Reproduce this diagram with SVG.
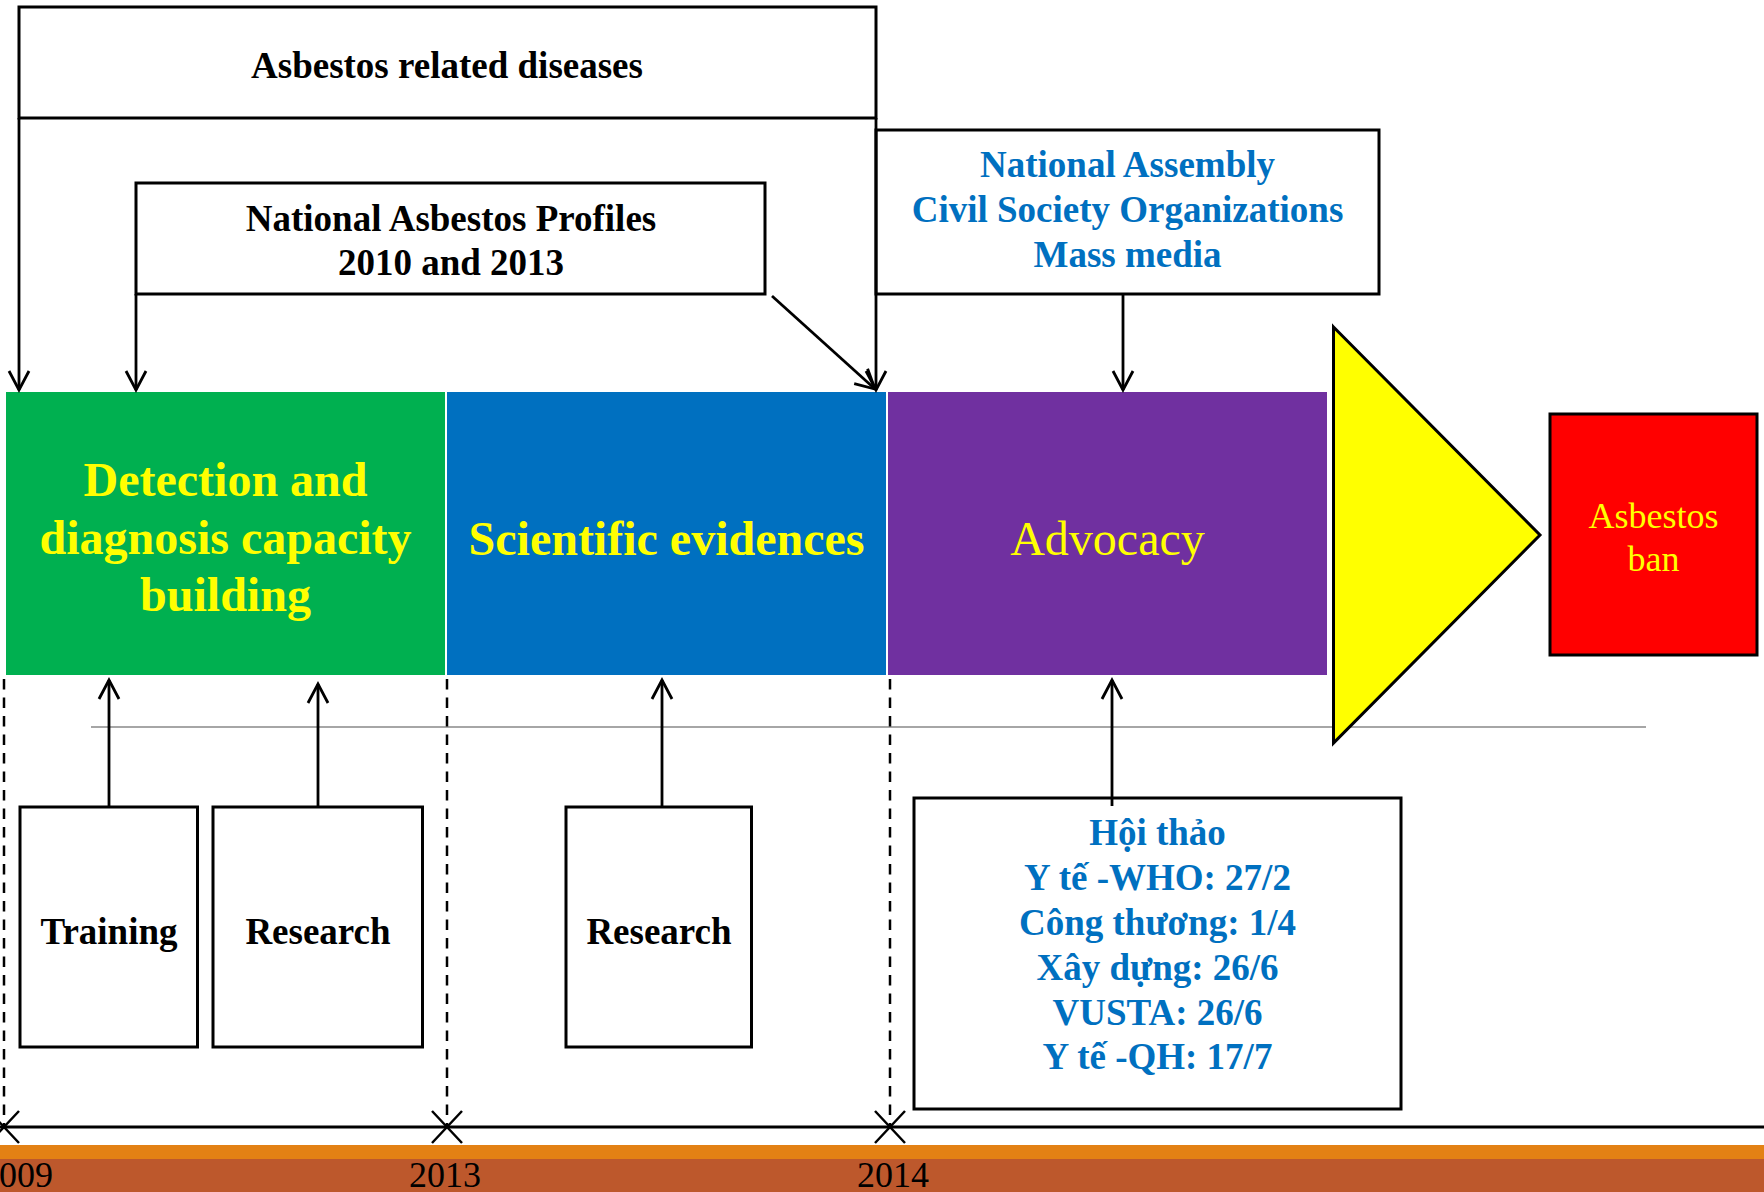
<svg xmlns="http://www.w3.org/2000/svg" width="1764" height="1192" viewBox="0 0 1764 1192">
  <defs>
    <style>
      .box { fill: #FFFFFF; stroke: #000000; stroke-width: 3; }
      .conn { fill: none; stroke: #000000; stroke-width: 2.8; }
      .dash { fill: none; stroke: #000000; stroke-width: 2.5; stroke-dasharray: 10.5 8; }
      .xmark { fill: none; stroke: #000000; stroke-width: 2.5; }
      .t { font-family: "Liberation Serif", "Times New Roman", serif; text-anchor: middle; }
      .b37 { font-weight: bold; font-size: 37px; }
      .blk { fill: #000000; }
      .blu { fill: #0070C0; }
      .yel { fill: #FFFF00; }
      .big { font-size: 48px; }
      .year { font-family: "Liberation Serif", "Times New Roman", serif; font-size: 36px; fill: #000000; }
    </style>
    <marker id="arr" viewBox="0 0 24 24" refX="21" refY="12" markerWidth="24" markerHeight="24" markerUnits="userSpaceOnUse" orient="auto">
      <path d="M2,2 L21,12 L2,22" fill="none" stroke="#000000" stroke-width="2.8"/>
    </marker>
  </defs>

  <rect x="0" y="0" width="1764" height="1192" fill="#FFFFFF"/>

  <g id="timeline">
    <line x1="91" y1="727" x2="1646" y2="727" stroke="#A6A6A6" stroke-width="2"/>
    <rect x="0" y="1145" width="1764" height="14" fill="#E38114"/>
    <rect x="0" y="1159" width="1764" height="33" fill="#BD582C"/>
    <line x1="0" y1="1127" x2="1764" y2="1127" stroke="#000000" stroke-width="3"/>
    <line class="dash" x1="4" y1="679" x2="4" y2="1127"/>
    <line class="dash" x1="447" y1="679" x2="447" y2="1127"/>
    <line class="dash" x1="890" y1="679" x2="890" y2="1127"/>
    <path class="xmark" d="M-11,1111 L19,1143 M-11,1143 L19,1111"/>
    <path class="xmark" d="M432,1111 L462,1143 M432,1143 L462,1111"/>
    <path class="xmark" d="M875,1111 L905,1143 M875,1143 L905,1111"/>
    <text class="year" x="-19" y="1187">2009</text>
    <text class="year" x="409" y="1187">2013</text>
    <text class="year" x="857" y="1187">2014</text>
  </g>

  <g id="node-asbestos-diseases">
    <rect class="box" x="19" y="7" width="857" height="111"/>
    <text class="t b37 blk" x="447" y="77.5">Asbestos related diseases</text>
  </g>

  <g id="node-profiles">
    <rect class="box" x="136" y="183" width="629" height="111"/>
    <text class="t b37 blk" x="451" y="230.5">National Asbestos Profiles</text>
    <text class="t b37 blk" x="451" y="274.5">2010 and 2013</text>
  </g>

  <g id="node-stakeholders">
    <rect class="box" x="876" y="130" width="503" height="164"/>
    <text class="t b37 blu" x="1127.5" y="176.5">National Assembly</text>
    <text class="t b37 blu" x="1127.5" y="221.5">Civil Society Organizations</text>
    <text class="t b37 blu" x="1127.5" y="266.5">Mass media</text>
  </g>

  <g id="node-detection">
    <rect x="6" y="392" width="439" height="283" fill="#00B050"/>
    <text class="t big yel" font-weight="bold" x="225.5" y="495.5">Detection and</text>
    <text class="t big yel" font-weight="bold" x="225.5" y="553.5">diagnosis capacity</text>
    <text class="t big yel" font-weight="bold" x="225.5" y="610.5">building</text>
  </g>

  <g id="node-scientific">
    <rect x="447" y="392" width="439" height="283" fill="#0070C0"/>
    <text class="t big yel" font-weight="bold" x="666.5" y="554.5">Scientific evidences</text>
  </g>

  <g id="node-advocacy">
    <rect x="888" y="392" width="439" height="283" fill="#7030A0"/>
    <text class="t big yel" x="1107.5" y="554.5">Advocacy</text>
  </g>

  <g id="node-triangle">
    <polygon points="1333.5,327 1540,535 1333.5,743" fill="#FFFF00" stroke="#000000" stroke-width="3"/>
  </g>

  <g id="node-ban">
    <rect x="1550" y="414" width="207" height="241" fill="#FF0000" stroke="#000000" stroke-width="3"/>
    <text class="t yel" font-size="36" x="1653.5" y="528">Asbestos</text>
    <text class="t yel" font-size="36" x="1653.5" y="571">ban</text>
  </g>

  <g id="node-training">
    <rect class="box" x="20" y="807" width="177.5" height="240"/>
    <text class="t b37 blk" x="109" y="943.5">Training</text>
  </g>

  <g id="node-research1">
    <rect class="box" x="213" y="807" width="209.5" height="240"/>
    <text class="t b37 blk" x="318" y="943.5">Research</text>
  </g>

  <g id="node-research2">
    <rect class="box" x="566" y="807" width="185.5" height="240"/>
    <text class="t b37 blk" x="659" y="943.5">Research</text>
  </g>

  <g id="node-hoithao">
    <rect class="box" x="914" y="798" width="487" height="311"/>
    <text class="t b37 blu" x="1157.5" y="844.5">Hội thảo</text>
    <text class="t b37 blu" x="1157.5" y="889.5">Y tế -WHO: 27/2</text>
    <text class="t b37 blu" x="1157.5" y="934.5">Công thương: 1/4</text>
    <text class="t b37 blu" x="1157.5" y="979.5">Xây dựng: 26/6</text>
    <text class="t b37 blu" x="1157.5" y="1024.5">VUSTA: 26/6</text>
    <text class="t b37 blu" x="1157.5" y="1068.5">Y tế -QH: 17/7</text>
  </g>

  <g id="connectors">
    <path class="conn" d="M19,118 L19,390" marker-end="url(#arr)"/>
    <path class="conn" d="M876,118 L876,390" marker-end="url(#arr)"/>
    <path class="conn" d="M136,294 L136,390" marker-end="url(#arr)"/>
    <path class="conn" d="M772,296 L875,389" marker-end="url(#arr)"/>
    <path class="conn" d="M1123,294 L1123,390" marker-end="url(#arr)"/>
    <path class="conn" d="M109,807 L109,680" marker-end="url(#arr)"/>
    <path class="conn" d="M318,807 L318,684" marker-end="url(#arr)"/>
    <path class="conn" d="M662,807 L662,680" marker-end="url(#arr)"/>
    <path class="conn" d="M1112,806 L1112,680" marker-end="url(#arr)"/>
  </g>
</svg>
